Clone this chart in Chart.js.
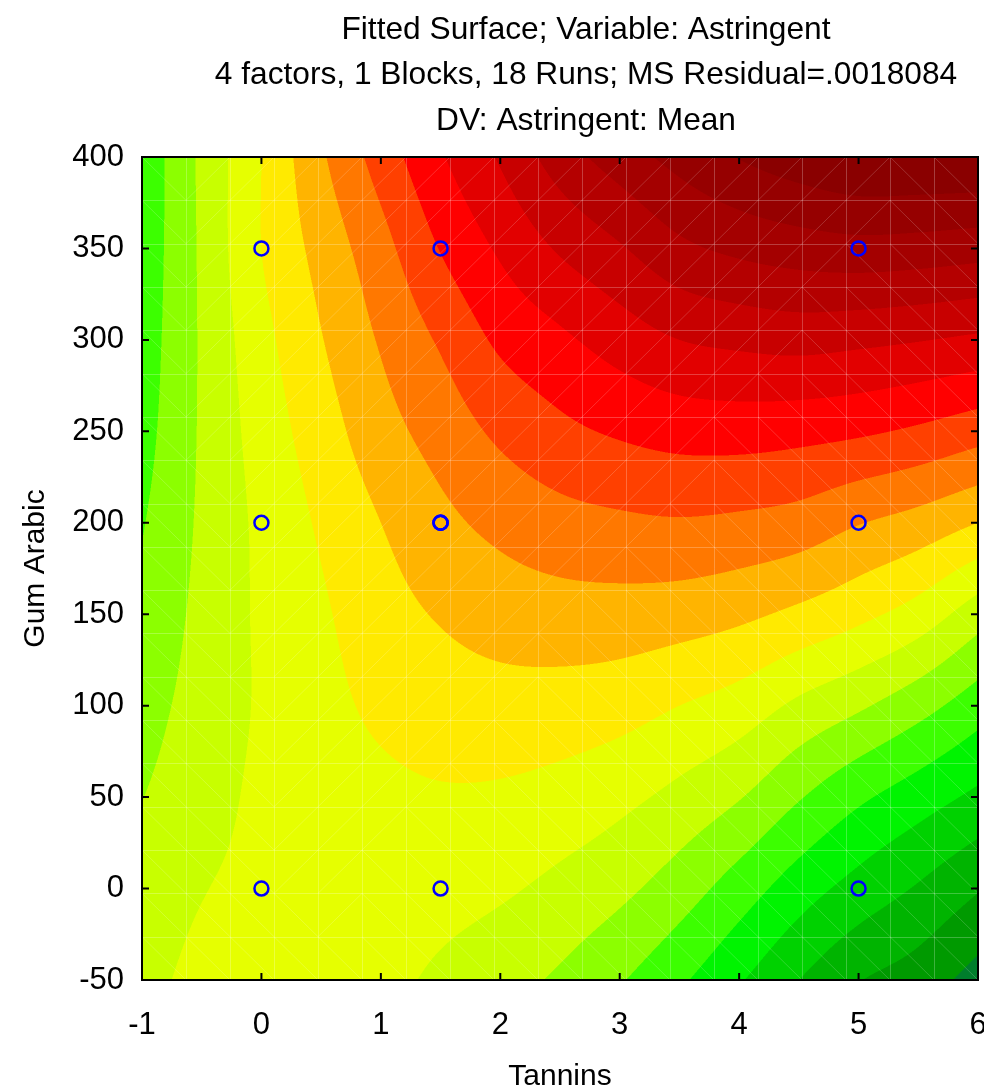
<!DOCTYPE html>
<html>
<head>
<meta charset="utf-8">
<title>Fitted Surface; Variable: Astringent</title>
<script src="https://cdn.jsdelivr.net/npm/chart.js@4.4.1/dist/chart.umd.min.js"></script>
<style>
  html, body { margin: 0; padding: 0; background: #fff; }
</style>
</head>
<body>
<canvas id="surfaceChart" width="984" height="1092"></canvas>
<script>
// nodes of the fitted surface grid
const tannins = [-1, -0.5, 0, 0.5, 1, 1.5, 2, 2.5, 3, 3.5, 4, 4.5, 5, 5.5, 6];
const gumArabic = [-50, 0, 50, 100, 150, 200, 250, 300, 350, 400];

// contour band reached at each node (integer part = band), one row per Gum Arabic value
const bandAtGumM50 = [8.7, 9.25, 9.35, 9.45, 9.25, 8.82, 8.36, 7.84, 7.09, 6.17, 5.1, 4.0, 3.05, 2.5, 1.6];
const bandAtGum0   = [8.4, 8.95, 9.25, 9.45, 9.5, 9.36, 9.14, 8.74, 8.24, 7.49, 6.52, 5.48, 4.62, 3.9, 3.08];
const bandAtGum50  = [7.98, 8.59, 9.2, 9.55, 9.78, 9.9, 9.85, 9.63, 9.26, 8.72, 8.06, 7.08, 6.19, 5.48, 4.78];
const bandAtGum100 = [7.63, 8.38, 9.12, 9.7, 10.19, 10.49, 10.62, 10.58, 10.4, 10.0, 9.56, 8.8, 8.15, 7.38, 6.47];
const bandAtGum150 = [7.28, 8.25, 9.16, 9.86, 10.59, 11.09, 11.43, 11.58, 11.59, 11.47, 11.21, 10.78, 10.25, 9.57, 8.47];
const bandAtGum200 = [6.93, 8.16, 9.22, 10.14, 11.0, 11.74, 12.27, 12.64, 12.82, 12.91, 12.8, 12.58, 12.05, 11.62, 11.0];
const bandAtGum250 = [6.62, 8.12, 9.42, 10.53, 11.6, 12.41, 13.2, 13.76, 14.13, 14.38, 14.43, 14.33, 14.15, 13.84, 13.41];
const bandAtGum300 = [6.45, 8.12, 9.67, 10.95, 12.1, 13.13, 14.19, 14.81, 15.45, 16.0, 16.23, 16.36, 16.23, 16.05, 15.82];
const bandAtGum350 = [6.33, 8.16, 10.0, 11.35, 12.65, 14.05, 15.15, 16.12, 16.9, 17.76, 18.22, 18.5, 18.65, 18.57, 18.41];
const bandAtGum400 = [6.25, 8.2, 10.0, 11.85, 13.43, 14.9, 16.12, 17.5, 18.5, 19.35, 20.05, 20.6, 21.0, 21.0, 21.0];

// design runs (Tannins, Gum Arabic); the centre run is repeated
const runTannins = [0, 0, 0, 1.5, 1.5, 1.5, 1.5, 1.5, 5, 5, 5];
const runGum     = [0, 200, 350, 0, 200, 200, 200, 350, 0, 200, 350];

const tanninsTicks = [-1, 0, 1, 2, 3, 4, 5, 6];
const gumTicks = [-50, 0, 50, 100, 150, 200, 250, 300, 350, 400];

const titleLines = [
  'Fitted Surface; Variable: Astringent',
  '4 factors, 1 Blocks, 18 Runs; MS Residual=.0018084',
  'DV: Astringent: Mean'
];

// dark green -> green -> yellow -> red -> dark red
const bandColors = [
  '#005f4a', '#007e2c', '#009a00', '#00b400', '#00d200', '#00f400',
  '#3cff00', '#8cff00', '#c8ff00', '#e6ff00', '#ffea00', '#ffb400',
  '#ff7800', '#ff4000', '#ff0000', '#e20000', '#c80000', '#b40000',
  '#a40000', '#960000', '#8a0000', '#7e0000'
];

const FONT = "'Liberation Sans', Arial, sans-serif";

const surfaceRows = [bandAtGumM50, bandAtGum0, bandAtGum50, bandAtGum100, bandAtGum150,
  bandAtGum200, bandAtGum250, bandAtGum300, bandAtGum350, bandAtGum400];

// padded copy of the grid so the cubic stencil never runs off the edge
const NI = tannins.length, NJ = gumArabic.length;
const padded = [];
for (let j = -1; j <= NJ; j++) {
  const row = [];
  for (let i = -1; i <= NI; i++) {
    const ci = Math.min(Math.max(i, 0), NI - 1), cj = Math.min(Math.max(j, 0), NJ - 1);
    let v = surfaceRows[cj][ci];
    if (i < 0) v = 2 * surfaceRows[cj][0] - surfaceRows[cj][1];
    if (i >= NI) v = 2 * surfaceRows[cj][NI - 1] - surfaceRows[cj][NI - 2];
    if (j < 0) v += (surfaceRows[0][ci] - surfaceRows[1][ci]);
    if (j >= NJ) v += (surfaceRows[NJ - 1][ci] - surfaceRows[NJ - 2][ci]);
    row.push(v);
  }
  padded.push(row);
}

function cubic(p0, p1, p2, p3, t) {
  return 0.5 * (2 * p1 + (p2 - p0) * t + (2 * p0 - 5 * p1 + 4 * p2 - p3) * t * t
    + (3 * p1 - p0 - 3 * p2 + p3) * t * t * t);
}

function surfaceAt(x, y) {
  const fx = (x - tannins[0]) / (tannins[1] - tannins[0]);
  const fy = (y - gumArabic[0]) / (gumArabic[1] - gumArabic[0]);
  const i = Math.min(Math.max(Math.floor(fx), 0), NI - 2);
  const j = Math.min(Math.max(Math.floor(fy), 0), NJ - 2);
  const tx = fx - i, ty = fy - j;
  const c = [0, 0, 0, 0];
  for (let m = 0; m < 4; m++) {
    const r = padded[j + m];
    c[m] = cubic(r[i], r[i + 1], r[i + 2], r[i + 3], tx);
  }
  return cubic(c[0], c[1], c[2], c[3], ty);
}

function hexToRgb(h) {
  return [parseInt(h.slice(1, 3), 16), parseInt(h.slice(3, 5), 16), parseInt(h.slice(5, 7), 16)];
}
const bandRgb = bandColors.map(hexToRgb);
function bandOf(v) {
  return Math.min(Math.max(Math.floor(v), 0), bandColors.length - 1);
}

// filled contour bands + the faint surface mesh, painted under the run markers
const surfacePlugin = {
  id: 'surface',
  beforeDatasetsDraw(chart) {
    const {ctx, chartArea: a, scales: {x, y}} = chart;
    const w = Math.round(a.right - a.left), h = Math.round(a.bottom - a.top);
    const off = document.createElement('canvas');
    off.width = w; off.height = h;
    const octx = off.getContext('2d');
    const img = octx.createImageData(w, h);
    const ss = [0.25, 0.75];
    const xs = [];
    for (let i = 0; i < w; i++) xs.push(ss.map(s => x.getValueForPixel(a.left + i + s)));
    for (let j = 0; j < h; j++) {
      const ys = ss.map(s => y.getValueForPixel(a.top + j + s));
      for (let i = 0; i < w; i++) {
        let r = 0, g = 0, b = 0;
        for (const yy of ys) {
          for (const xx of xs[i]) {
            const c = bandRgb[bandOf(surfaceAt(xx, yy))];
            r += c[0]; g += c[1]; b += c[2];
          }
        }
        const k = (j * w + i) * 4;
        img.data[k] = r / 4; img.data[k + 1] = g / 4; img.data[k + 2] = b / 4; img.data[k + 3] = 255;
      }
    }
    octx.putImageData(img, 0, 0);
    ctx.drawImage(off, a.left, a.top);

    // surface mesh: 20 x 20 nodes, one diagonal per cell
    const nodes = 20;
    const mx = [], my = [];
    for (let k = 0; k < nodes; k++) {
      mx.push(x.min + (x.max - x.min) * k / (nodes - 1));
      my.push(y.min + (y.max - y.min) * k / (nodes - 1));
    }
    ctx.save();
    ctx.beginPath();
    ctx.rect(a.left, a.top, a.right - a.left, a.bottom - a.top);
    ctx.clip();
    ctx.lineWidth = 1;
    ctx.strokeStyle = 'rgba(255,255,255,0.24)';
    ctx.beginPath();
    for (let k = 1; k < nodes - 1; k++) {
      const px = Math.round(x.getPixelForValue(mx[k])) + 0.5;
      ctx.moveTo(px, a.top); ctx.lineTo(px, a.bottom);
      const py = Math.round(y.getPixelForValue(my[k])) + 0.5;
      ctx.moveTo(a.left, py); ctx.lineTo(a.right, py);
    }
    ctx.stroke();
    ctx.strokeStyle = 'rgba(255,255,255,0.18)';
    ctx.beginPath();
    for (let p = 0; p < nodes - 1; p++) {
      for (let q = 0; q < nodes - 1; q++) {
        const za = surfaceAt(mx[p], my[q]), zb = surfaceAt(mx[p + 1], my[q]);
        const zc = surfaceAt(mx[p], my[q + 1]), zd = surfaceAt(mx[p + 1], my[q + 1]);
        const x0 = x.getPixelForValue(mx[p]), x1 = x.getPixelForValue(mx[p + 1]);
        const y0 = y.getPixelForValue(my[q]), y1 = y.getPixelForValue(my[q + 1]);
        if (Math.abs(za - zd) >= Math.abs(zc - zb)) {
          ctx.moveTo(x0, y0); ctx.lineTo(x1, y1);
        } else {
          ctx.moveTo(x0, y1); ctx.lineTo(x1, y0);
        }
      }
    }
    ctx.stroke();
    ctx.restore();
  },
  afterDatasetsDraw(chart) {
    const {ctx, chartArea: a, scales: {x, y}} = chart;
    ctx.save();
    ctx.strokeStyle = '#000';
    ctx.lineWidth = 2;
    ctx.strokeRect(a.left, a.top, a.right - a.left, a.bottom - a.top);
    // tick marks point into the plot on all four sides
    const tl = 7;
    ctx.beginPath();
    tanninsTicks.forEach(v => {
      const px = x.getPixelForValue(v);
      ctx.moveTo(px, a.bottom); ctx.lineTo(px, a.bottom - tl);
      ctx.moveTo(px, a.top); ctx.lineTo(px, a.top + tl);
    });
    gumTicks.forEach(v => {
      const py = y.getPixelForValue(v);
      ctx.moveTo(a.left, py); ctx.lineTo(a.left + tl, py);
      ctx.moveTo(a.right, py); ctx.lineTo(a.right - tl, py);
    });
    ctx.stroke();
    ctx.restore();
  },
  afterDraw(chart) {
    const ctx = chart.ctx;
    ctx.save();
    ctx.fillStyle = '#000';
    ctx.font = '31.7px ' + FONT;
    ctx.textAlign = 'center';
    ctx.textBaseline = 'middle';
    const rowsY = [30, 75, 121];
    titleLines.forEach((t, k) => ctx.fillText(t, 586, rowsY[k]));
    ctx.restore();
  }
};

new Chart(document.getElementById('surfaceChart'), {
  type: 'scatter',
  data: {
    datasets: [{
      data: runTannins.map((t, k) => ({x: t, y: runGum[k]})),
      pointRadius: 7,
      pointHoverRadius: 7,
      pointBorderWidth: 2.5,
      pointBorderColor: '#0000ff',
      pointBackgroundColor: 'rgba(0,0,0,0)',
      showLine: false
    }]
  },
  options: {
    responsive: false,
    animation: false,
    devicePixelRatio: 1,
    layout: {autoPadding: false, padding: {top: 157, right: 6, bottom: 0, left: 0}},
    plugins: {legend: {display: false}, tooltip: {enabled: false}, title: {display: false}},
    scales: {
      x: {
        type: 'linear',
        min: -1, max: 6,
        afterBuildTicks: s => { s.ticks = tanninsTicks.map(v => ({value: v})); },
        afterFit: s => { s.height = 112; s.paddingLeft = 0; s.paddingRight = 0; },
        grid: {display: false, drawTicks: false},
        border: {display: false},
        ticks: {
          font: {family: FONT, size: 31},
          color: '#000',
          padding: 27,
          autoSkip: false,
          maxRotation: 0,
          callback: v => String(v)
        },
        title: {display: true, text: 'Tannins', color: '#000',
          font: {family: FONT, size: 30, lineHeight: 1}, padding: {top: 0, bottom: 0}}
      },
      y: {
        type: 'linear',
        min: -50, max: 400,
        afterBuildTicks: s => { s.ticks = gumTicks.map(v => ({value: v})); },
        afterFit: s => { s.width = 142; s.paddingTop = 0; s.paddingBottom = 0; },
        grid: {display: false, drawTicks: false},
        border: {display: false},
        ticks: {
          font: {family: FONT, size: 31},
          color: '#000',
          padding: 18,
          autoSkip: false,
          callback: v => String(v)
        },
        title: {display: true, text: 'Gum Arabic', color: '#000',
          font: {family: FONT, size: 30, lineHeight: 1}, padding: {top: 21, bottom: 0}}
      }
    }
  },
  plugins: [surfacePlugin]
});
</script>
</body>
</html>
